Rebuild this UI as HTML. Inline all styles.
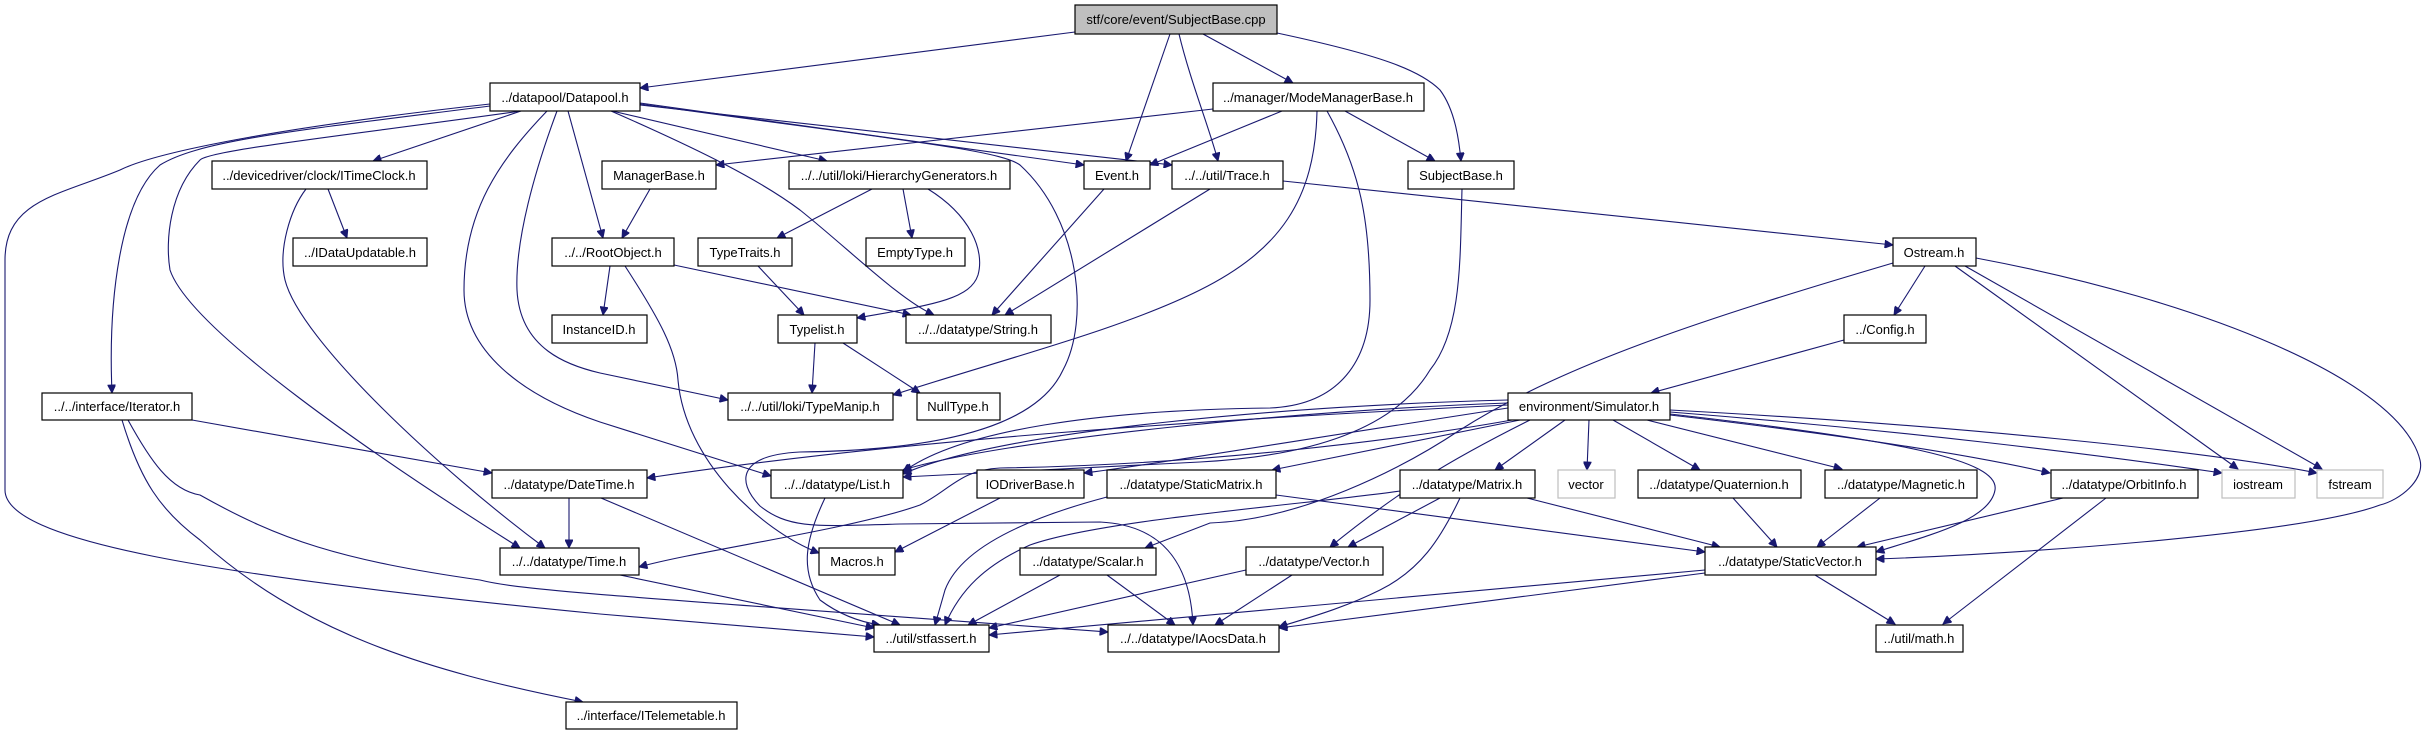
<!DOCTYPE html>
<html><head><meta charset="utf-8"><style>
html,body{margin:0;padding:0;background:#fff;}
svg{display:block;}
text{font-family:"Liberation Sans",sans-serif;font-size:13px;fill:#000;text-anchor:middle;}
rect{fill:#fff;stroke:#000;stroke-width:1.2;}
rect.g{stroke:#bfbfbf;}
path{fill:none;stroke:#191970;stroke-width:1.1;}
</style></head><body>
<svg width="2426" height="736" viewBox="0 0 2426 736" xmlns="http://www.w3.org/2000/svg">
<defs><marker id="a" viewBox="0 0 10 10" refX="10" refY="5" markerWidth="10" markerHeight="8" markerUnits="userSpaceOnUse" orient="auto"><path d="M0,0 L10,5 L0,10 z" style="fill:#191970;stroke:#191970"/></marker></defs>
<g marker-end="url(#a)">
<path d="M1075,32 L640,88"/>
<path d="M1170,34 L1126,161"/>
<path d="M1179,34 C1190,80 1210,130 1218,161"/>
<path d="M1203,34 L1293,83"/>
<path d="M1277,33 C1380,55 1420,70 1440,90 C1455,110 1459,140 1461,161"/>
<path d="M521,111 L373,161"/>
<path d="M568,111 L603,238"/>
<path d="M490,106 C300,130 200,140 160,165 C120,200 108,300 112,393"/>
<path d="M490,104 C300,125 160,150 120,170 C60,195 5,200 5,260 L5,490 C5,540 200,575 600,614 L874,637"/>
<path d="M521,111 C350,135 210,150 200,160 C170,190 165,240 170,270 C190,330 380,460 520,548"/>
<path d="M306,189 C290,210 278,250 285,280 C300,340 440,470 545,548"/>
<path d="M547,111 C500,160 464,210 464,290 C464,350 520,395 600,422 L771,476"/>
<path d="M557,111 C535,170 515,240 517,290 C520,350 570,366 600,373 L728,400"/>
<path d="M612,111 L827,161"/>
<path d="M640,103 L1084,165"/>
<path d="M640,105 L1172,165"/>
<path d="M611,111 C700,150 760,180 800,210 C850,250 900,300 934,315"/>
<path d="M640,104 C900,140 1000,150 1020,165 C1080,220 1090,320 1063,370 C1040,420 960,450 800,452 C740,455 735,480 760,506 C790,530 820,526 900,524 L1100,522 C1160,525 1190,560 1193,625"/>
<path d="M1213,109 L716,165"/>
<path d="M1282,111 L1150,165"/>
<path d="M1345,111 L1435,161"/>
<path d="M1317,111 C1315,200 1280,250 1200,290 C1120,330 1000,360 893,395"/>
<path d="M1327,111 C1360,170 1370,220 1370,300 C1370,360 1340,405 1270,408 C1100,410 960,430 903,472"/>
<path d="M1462,189 C1460,260 1462,330 1430,370 C1400,420 1330,455 1200,462 L903,477"/>
<path d="M1283,181 L1893,245"/>
<path d="M1210,189 L1005,315"/>
<path d="M1104,189 L992,315"/>
<path d="M650,189 L622,238"/>
<path d="M872,189 L777,238"/>
<path d="M903,189 L912,238"/>
<path d="M928,189 C970,215 985,250 978,275 C970,300 930,305 857,318"/>
<path d="M610,266 L603,315"/>
<path d="M674,265 L911,315"/>
<path d="M625,266 C660,320 676,350 678,380 C685,460 760,530 819,553"/>
<path d="M758,266 L804,315"/>
<path d="M815,343 L812,393"/>
<path d="M843,343 L920,393"/>
<path d="M328,189 L347,238"/>
<path d="M192,420 L492,473"/>
<path d="M122,420 C140,480 160,510 200,540 C300,630 420,670 583,702"/>
<path d="M128,420 C150,460 170,490 200,495 C280,540 340,560 480,580 C520,590 600,595 1108,632"/>
<path d="M569,498 L569,548"/>
<path d="M601,498 L900,625"/>
<path d="M620,575 L874,628"/>
<path d="M825,498 C805,540 800,570 820,600 C840,615 860,622 880,625"/>
<path d="M1107,497 C1020,520 960,550 945,590 L935,625"/>
<path d="M1400,491 C1300,505 1100,520 1030,545 C985,565 960,590 945,625"/>
<path d="M1060,575 L968,625"/>
<path d="M1107,575 L1175,625"/>
<path d="M1246,570 L989,628"/>
<path d="M1705,570 L989,635"/>
<path d="M1705,573 L1279,628"/>
<path d="M1292,575 L1215,625"/>
<path d="M1460,498 C1440,540 1420,570 1380,590 C1340,610 1300,620 1279,627"/>
<path d="M1440,498 L1348,547"/>
<path d="M1527,498 L1720,547"/>
<path d="M1276,495 L1705,552"/>
<path d="M1733,498 L1777,547"/>
<path d="M1880,498 L1817,547"/>
<path d="M2063,498 L1857,547"/>
<path d="M2106,498 L1943,624"/>
<path d="M1815,575 L1895,624"/>
<path d="M1925,266 L1894,315"/>
<path d="M1955,266 L2238,469"/>
<path d="M1965,266 L2322,469"/>
<path d="M1976,258 C2200,300 2400,380 2420,460 C2425,480 2400,500 2380,505 C2300,535 2000,555 1876,559"/>
<path d="M1844,340 L1651,393"/>
<path d="M1893,263 C1700,320 1560,366 1460,430 C1400,470 1300,520 1210,523 L1145,548"/>
<path d="M1508,403 C1300,410 1000,440 903,470"/>
<path d="M1508,400 C1300,405 1000,430 903,474"/>
<path d="M1508,405 C1200,420 900,440 647,478"/>
<path d="M1508,408 C1300,440 1150,465 1084,473"/>
<path d="M1520,420 L1272,470"/>
<path d="M1512,420 C1400,440 1200,465 1000,468 C960,470 950,490 920,505 C850,530 700,550 639,567"/>
<path d="M1530,420 C1450,460 1400,490 1330,547"/>
<path d="M1565,420 L1495,470"/>
<path d="M1589,420 L1587,470"/>
<path d="M1613,420 L1700,470"/>
<path d="M1647,420 L1842,469"/>
<path d="M1670,415 C1800,430 1950,450 2050,473"/>
<path d="M1670,412 C1900,430 2100,455 2222,473"/>
<path d="M1670,410 C1950,425 2200,450 2317,473"/>
<path d="M1670,414 C1900,440 2000,460 1995,490 C1990,520 1930,535 1876,552"/>
<path d="M1000,498 L895,552"/>
</g>
<g>
<rect x="1075" y="5" width="202" height="29" style="fill:#bfbfbf"/><text x="1176" y="24">stf/core/event/SubjectBase.cpp</text>
<rect x="490" y="83" width="150" height="28"/><text x="565" y="102">../datapool/Datapool.h</text>
<rect x="1213" y="83" width="211" height="28"/><text x="1318" y="102">../manager/ModeManagerBase.h</text>
<rect x="212" y="161" width="215" height="28"/><text x="319" y="180">../devicedriver/clock/ITimeClock.h</text>
<rect x="602" y="161" width="114" height="28"/><text x="659" y="180">ManagerBase.h</text>
<rect x="789" y="161" width="221" height="28"/><text x="899" y="180">../../util/loki/HierarchyGenerators.h</text>
<rect x="1084" y="161" width="66" height="28"/><text x="1117" y="180">Event.h</text>
<rect x="1172" y="161" width="111" height="28"/><text x="1227" y="180">../../util/Trace.h</text>
<rect x="1408" y="161" width="106" height="28"/><text x="1461" y="180">SubjectBase.h</text>
<rect x="293" y="238" width="134" height="28"/><text x="360" y="257">../IDataUpdatable.h</text>
<rect x="552" y="238" width="122" height="28"/><text x="613" y="257">../../RootObject.h</text>
<rect x="698" y="238" width="94" height="28"/><text x="745" y="257">TypeTraits.h</text>
<rect x="866" y="238" width="99" height="28"/><text x="915" y="257">EmptyType.h</text>
<rect x="1893" y="238" width="83" height="28"/><text x="1934" y="257">Ostream.h</text>
<rect x="552" y="315" width="95" height="28"/><text x="599" y="334">InstanceID.h</text>
<rect x="778" y="315" width="79" height="28"/><text x="817" y="334">Typelist.h</text>
<rect x="906" y="315" width="145" height="28"/><text x="978" y="334">../../datatype/String.h</text>
<rect x="1844" y="315" width="82" height="28"/><text x="1885" y="334">../Config.h</text>
<rect x="42" y="393" width="150" height="27"/><text x="117" y="411">../../interface/Iterator.h</text>
<rect x="728" y="393" width="165" height="27"/><text x="810" y="411">../../util/loki/TypeManip.h</text>
<rect x="917" y="393" width="83" height="27"/><text x="958" y="411">NullType.h</text>
<rect x="1508" y="393" width="162" height="27"/><text x="1589" y="411">environment/Simulator.h</text>
<rect x="492" y="470" width="155" height="28"/><text x="569" y="489">../datatype/DateTime.h</text>
<rect x="771" y="470" width="132" height="28"/><text x="837" y="489">../../datatype/List.h</text>
<rect x="977" y="470" width="107" height="28"/><text x="1030" y="489">IODriverBase.h</text>
<rect x="1107" y="470" width="169" height="28"/><text x="1191" y="489">../datatype/StaticMatrix.h</text>
<rect x="1400" y="470" width="135" height="28"/><text x="1467" y="489">../datatype/Matrix.h</text>
<rect class="g" x="1558" y="470" width="57" height="28"/><text x="1586" y="489">vector</text>
<rect x="1638" y="470" width="163" height="28"/><text x="1719" y="489">../datatype/Quaternion.h</text>
<rect x="1825" y="470" width="152" height="28"/><text x="1901" y="489">../datatype/Magnetic.h</text>
<rect x="2051" y="470" width="147" height="28"/><text x="2124" y="489">../datatype/OrbitInfo.h</text>
<rect class="g" x="2222" y="470" width="73" height="28"/><text x="2258" y="489">iostream</text>
<rect class="g" x="2317" y="470" width="66" height="28"/><text x="2350" y="489">fstream</text>
<rect x="500" y="548" width="139" height="27"/><text x="569" y="566">../../datatype/Time.h</text>
<rect x="819" y="548" width="76" height="27"/><text x="857" y="566">Macros.h</text>
<rect x="1020" y="548" width="136" height="27"/><text x="1088" y="566">../datatype/Scalar.h</text>
<rect x="1246" y="547" width="137" height="28"/><text x="1314" y="566">../datatype/Vector.h</text>
<rect x="1705" y="547" width="171" height="28"/><text x="1790" y="566">../datatype/StaticVector.h</text>
<rect x="874" y="625" width="115" height="27"/><text x="931" y="643">../util/stfassert.h</text>
<rect x="1108" y="625" width="171" height="27"/><text x="1193" y="643">../../datatype/IAocsData.h</text>
<rect x="1876" y="625" width="87" height="27"/><text x="1919" y="643">../util/math.h</text>
<rect x="566" y="702" width="171" height="27"/><text x="651" y="720">../interface/ITelemetable.h</text>
</g>
</svg>
</body></html>
